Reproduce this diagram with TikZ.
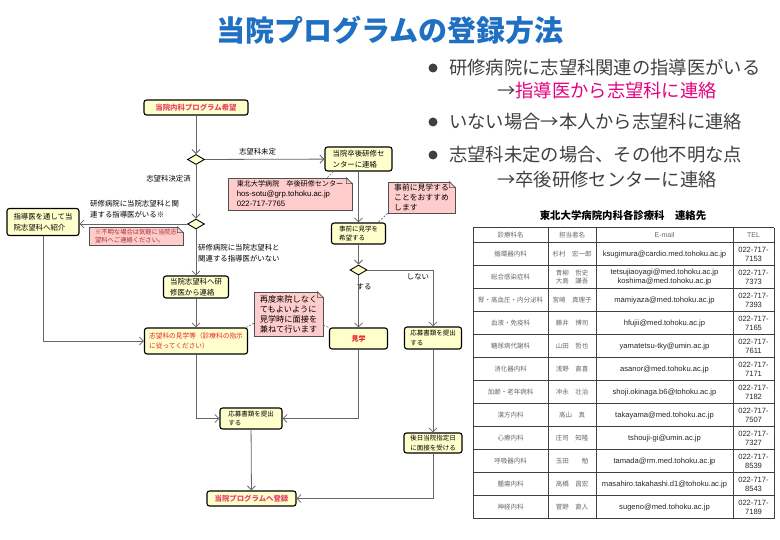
\documentclass[tikz,border=0pt]{standalone}
\usepackage{fontspec}
\setmainfont{Noto Sans CJK JP}
\newfontfamily\mailfont{Liberation Sans}
\usetikzlibrary{shapes.geometric,arrows.meta}

\definecolor{titleblue}{HTML}{1F6FC2}
\definecolor{bodygray}{HTML}{404040}
\definecolor{magentatxt}{HTML}{E4007F}
\definecolor{boxfill}{HTML}{FFFFCC}
\definecolor{notefill}{HTML}{FFCCCC}
\definecolor{notedraw}{HTML}{505050}
\definecolor{linegray}{HTML}{666666}
\definecolor{pinkred}{HTML}{E8436E}
\definecolor{redtxt}{HTML}{E8212A}
\definecolor{notered}{HTML}{A0302A}
\definecolor{cellgray}{HTML}{666666}

\newcommand{\fsz}[2]{\fontsize{#1pt}{#2pt}\selectfont}

\begin{document}
\begin{tikzpicture}[x=1pt, y=-1pt,
    flowbox/.style={rectangle, rounded corners=2.5pt, draw=black, line width=1.1pt,
        fill=boxfill, inner sep=0pt, align=left, font=\fsz{7.4}{10.5}},
    choice/.style={diamond, draw=black, line width=0.9pt, fill=boxfill,
        minimum width=17pt, minimum height=10pt, inner sep=0pt},
    memo/.style={rectangle, draw=notedraw, line width=0.5pt, fill=notefill,
        inner sep=0pt, align=left, font=\fsz{7.4}{10}},
    tag/.style={inner sep=0pt, align=left, font=\fsz{7.4}{10.5}},
    flow/.style={draw=linegray, line width=0.8pt, -{Straight Barb[length=4pt,width=8pt]}},
    hint/.style={draw=linegray, line width=0.7pt, dash pattern=on 2pt off 1.5pt},
    dot/.style={circle, fill=bodygray, minimum size=9pt, inner sep=0pt},
    point/.style={anchor=west, inner sep=0pt, text=bodygray, font=\fsz{18.3}{20}},
    cell/.style={inner sep=0pt, align=center, text=cellgray, font=\fsz{6.5}{8.5}},
    mailcell/.style={inner sep=0pt, align=center, text=black!85, font=\mailfont\fsz{7.6}{9.5}},
    grid/.style={draw=black!75, line width=0.7pt}
]
    \useasboundingbox (0,0) rectangle (780,540);

    \node[text=titleblue, font=\bfseries\fsz{29}{32}] (title) at (390,30) {当院プログラムの登録方法};

    \node[dot] (dot1) at (433,68) {};
    \node[point] (p1) at (449,68) {研修病院に志望科関連の指導医がいる};
    \node[point] (p1b) at (497,91) {→\textcolor{magentatxt}{指導医から志望科に連絡}};
    \node[dot] (dot2) at (433,122) {};
    \node[point] (p2) at (449,122) {いない場合→本人から志望科に連絡};
    \node[dot] (dot3) at (433,155) {};
    \node[point] (p3) at (449,155) {志望科未定の場合、その他不明な点};
    \node[point] (p3b) at (497,180) {→卒後研修センターに連絡};

    \node[flowbox, minimum width=104pt, minimum height=15pt, text=pinkred,
        font=\bfseries\fsz{7.4}{9}] (wish) at (196,107.5) {当院内科プログラム希望};
    \node[choice] (q1) at (196,159.5) {};
    \node[flowbox, minimum width=67pt, minimum height=24pt] (center) at (358.5,159) {当院卒後研修セ\\ンターに連絡};
    \node[choice] (q2) at (196,224) {};
    \node[flowbox, minimum width=72pt, minimum height=27pt] (mentor) at (43,222) {指導医を通して当\\院志望科へ紹介};
    \node[flowbox, minimum width=65pt, minimum height=22pt] (self) at (196,287) {当院志望科へ研\\修医から連絡};
    \node[flowbox, minimum width=103pt, minimum height=26pt, text=redtxt,
        font=\fsz{6.7}{9.5}] (visit) at (196,341) {志望科の見学等（診療科の指示\\に従ってください）};
    \node[flowbox, minimum width=54pt, minimum height=21pt, font=\fsz{6.5}{9.5}] (hope) at (358.5,233.5) {事前に見学を\\希望する};
    \node[choice] (q3) at (358.5,270) {};
    \node[flowbox, minimum width=58pt, minimum height=21pt, text=redtxt,
        font=\bfseries\fsz{7}{9}] (tour) at (358.5,338.5) {見学};
    \node[flowbox, minimum width=57pt, minimum height=22pt, font=\fsz{6.5}{9.5}] (apply2) at (433,338) {応募書類を提出\\する};
    \node[flowbox, minimum width=62pt, minimum height=21pt, font=\fsz{6.5}{9.5}] (apply1) at (251,418.5) {応募書類を提出\\する};
    \node[flowbox, minimum width=58pt, minimum height=20pt, font=\fsz{6.5}{9.5}] (meet) at (433,443) {後日当院指定日\\に面接を受ける};
    \node[flowbox, minimum width=89pt, minimum height=15pt, text=pinkred,
        font=\bfseries\fsz{7.4}{9}] (entry) at (251.5,498.5) {当院プログラムへ登録};

    \node[tag] (undecided) at (257.5,151.5) {志望科未定};
    \node[tag] (decided) at (168.5,179) {志望科決定済};
    \node[tag, anchor=north west] (hasdoc) at (90,200.5) {研修病院に当院志望科と関\\連する指導医がいる※};
    \node[tag, anchor=north west] (nodoc) at (198,244.5) {研修病院に当院志望科と\\関連する指導医がいない};
    \node[tag] (yes) at (364,286.5) {する};
    \node[tag] (no) at (418,276.5) {しない};

    \node[memo, minimum width=124pt, minimum height=32pt] (centernote) at (290,194)
        {{\fsz{7.1}{10}東北大学病院　卒後研修センター}\\{\mailfont\fsz{7.8}{10}hos-sotu@grp.tohoku.ac.jp}\\{\mailfont\fsz{7.8}{10}022-717-7765}};
    \node[memo, minimum width=94pt, minimum height=18pt, text=notered,
        font=\fsz{6.3}{8}] (asknote) at (136,236) {※不明な場合は気軽に当院志\\望科へご連絡ください。};
    \node[memo, minimum width=69pt, minimum height=44pt, font=\fsz{8.2}{10}] (againnote) at (288.5,314)
        {再度来院しなく\\てもよいように\\見学時に面接を\\兼ねて行います};
    \node[memo, minimum width=67pt, minimum height=31pt, font=\fsz{7.8}{10}] (earlynote) at (421.5,197.5)
        {事前に見学する\\ことをおすすめ\\します};

    \foreach \n in {centernote,asknote,againnote,earlynote} {
        \fill[white] ([xshift=-6pt,yshift=1pt]\n.north east) -- ([xshift=1pt,yshift=1pt]\n.north east)
            -- ([xshift=1pt,yshift=-6pt]\n.north east) -- cycle;
        \draw[notedraw, line width=0.5pt] ([xshift=-6pt]\n.north east) -- ([yshift=-6pt]\n.north east);
        \filldraw[fill=notefill, draw=notedraw, line width=0.5pt] ([xshift=-6pt]\n.north east)
            -- ([xshift=-6pt,yshift=-6pt]\n.north east) -- ([yshift=-6pt]\n.north east) -- cycle;
    }

    \draw[flow] (wish) -- (q1);
    \draw[flow] (q1) -- (center);
    \draw[flow] (q1) -- (q2);
    \draw[flow] (q2) -- (q2 -| mentor.east);
    \draw[flow] (q2) -- (self);
    \draw[flow] (self) -- (visit);
    \draw[flow] (mentor) |- (visit);
    \draw[flow] (center) -- (hope);
    \draw[flow] (hope) -- (q3);
    \draw[flow] (q3) -- (tour);
    \draw[flow] (q3) -| (apply2);
    \draw[flow] (visit) |- (apply1);
    \draw[flow] (tour) |- (apply1);
    \draw[flow] (apply2) -- (meet);
    \draw[flow] (apply1) -- (entry);
    \draw[flow] (meet) |- (entry);

    \draw[hint] ([xshift=-25pt]centernote.north east) -- ([xshift=9pt]center.south west);
    \draw[hint] (earlynote.south west) -- ([xshift=-8pt]hope.north east);
    \draw[hint] ([yshift=13pt]againnote.south west) -- ([xshift=-2pt]visit.north east);
    \draw[hint] ([yshift=11pt]againnote.south east) -- (tour.north west);

    \node[font=\bfseries\fsz{10.4}{12}] (tabletitle) at (623,216) {東北大学病院内科各診療科　連絡先};
    \foreach \x in {473,548,596,733,774}
        \draw[grid] (\x,227.7) -- (\x,518.7);
    \draw[grid] (473,227.7) -- (774,227.7);
    \foreach \r in {0,...,12}
        \draw[grid] (473,242.7+23*\r) -- (774,242.7+23*\r);
    \node[cell] (hdep) at (510.5,235.2) {診療科名};
    \node[cell] (hwho) at (572,235.2) {担当者名};
    \node[cell, font=\mailfont\fsz{7}{8}] (hmail) at (664.5,235.2) {E-mail};
    \node[cell, font=\mailfont\fsz{7}{8}] (htel) at (753.5,235.2) {TEL};
    \foreach \dep/\who/\mail/\tel [count=\i] in {
        循環器内科/杉村　宏一郎/ksugimura@cardio.med.tohoku.ac.jp/7153,
        総合感染症科/{青柳　哲史\\大島　謙吾}/{tetsujiaoyagi@med.tohoku.ac.jp\\koshima@med.tohoku.ac.jp}/7373,
        腎・高血圧・内分泌科/宮崎　真理子/mamiyaza@med.tohoku.ac.jp/7393,
        血液・免疫科/藤井　博司/hfujii@med.tohoku.ac.jp/7165,
        糖尿病代謝科/山田　哲也/yamatetsu-tky@umin.ac.jp/7611,
        消化器内科/浅野　直喜/asanor@med.tohoku.ac.jp/7171,
        加齢・老年病科/冲永　壮治/shoji.okinaga.b6@tohoku.ac.jp/7182,
        漢方内科/高山　真/takayama@med.tohoku.ac.jp/7507,
        心療内科/庄司　知隆/tshouji-gi@umin.ac.jp/7327,
        呼吸器内科/玉田　　勉/tamada@rm.med.tohoku.ac.jp/8539,
        腫瘍内科/高橋　昌宏/masahiro.takahashi.d1@tohoku.ac.jp/8543,
        神経内科/菅野　直人/sugeno@med.tohoku.ac.jp/7189} {
        \node[cell] (dep\i) at (510.5,231.2+23*\i) {\dep};
        \node[cell] (who\i) at (572,231.2+23*\i) {\who};
        \node[mailcell] (mail\i) at (664.5,231.2+23*\i) {\mail};
        \node[mailcell] (tel\i) at (753.5,231.2+23*\i) {022-717-\\\tel};
    }
\end{tikzpicture}
\end{document}
